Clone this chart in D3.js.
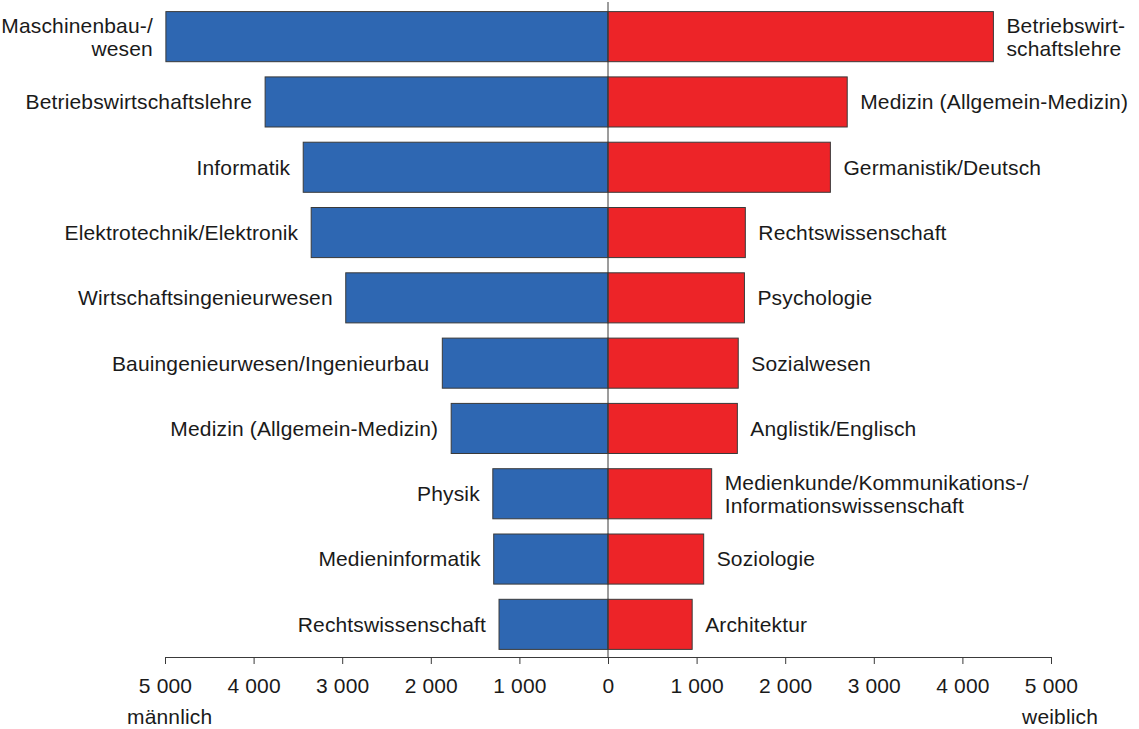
<!DOCTYPE html>
<html>
<head>
<meta charset="utf-8">
<script src="https://cdn.jsdelivr.net/npm/d3@7"></script>
<style>
  body { margin: 0; background: #fff; }
  text { font-family: "Liberation Sans", Arial, sans-serif; fill: #1a1a1a; letter-spacing: 0.15px; }
</style>
</head>
<body>
<script>
const maleSubjects = [
  "Maschinenbau-/\nwesen",
  "Betriebswirtschaftslehre",
  "Informatik",
  "Elektrotechnik/Elektronik",
  "Wirtschaftsingenieurwesen",
  "Bauingenieurwesen/Ingenieurbau",
  "Medizin (Allgemein-Medizin)",
  "Physik",
  "Medieninformatik",
  "Rechtswissenschaft"
];
const maleValues = [4990, 3870, 3440, 3350, 2960, 1870, 1770, 1300, 1290, 1230];

const femaleSubjects = [
  "Betriebswirt-\nschaftslehre",
  "Medizin (Allgemein-Medizin)",
  "Germanistik/Deutsch",
  "Rechtswissenschaft",
  "Psychologie",
  "Sozialwesen",
  "Anglistik/Englisch",
  "Medienkunde/Kommunikations-/\nInformationswissenschaft",
  "Soziologie",
  "Architektur"
];
const femaleValues = [4350, 2700, 2510, 1550, 1540, 1470, 1460, 1170, 1080, 950];

const tickValues = [-5000, -4000, -3000, -2000, -1000, 0, 1000, 2000, 3000, 4000, 5000];

const width = 1139;
const height = 729;
const fontSize = 21;

const svg = d3.select("body")
  .append("svg")
  .attr("width", width)
  .attr("height", height);

const x = d3.scaleLinear().domain([-5000, 5000]).range([165, 1051]);
const y = d3.scaleBand()
  .domain(d3.range(maleValues.length))
  .range([4, 657])
  .paddingInner(0.233)
  .paddingOuter(0.1165);

const fmt = d3.formatLocale({ thousands: " ", grouping: [3], decimal: "," }).format(",d");

// male bars (left)
svg.selectAll("rect.male")
  .data(maleValues)
  .enter()
  .append("rect")
  .attr("class", "male")
  .attr("x", (d) => x(-d))
  .attr("y", (d, i) => y(i))
  .attr("width", (d) => x(0) - x(-d))
  .attr("height", y.bandwidth())
  .attr("fill", "#2e67b2")
  .attr("stroke", "#3a3a3a")
  .attr("stroke-width", 1);

// female bars (right)
svg.selectAll("rect.female")
  .data(femaleValues)
  .enter()
  .append("rect")
  .attr("class", "female")
  .attr("x", x(0))
  .attr("y", (d, i) => y(i))
  .attr("width", (d) => x(d) - x(0))
  .attr("height", y.bandwidth())
  .attr("fill", "#ed2428")
  .attr("stroke", "#3a3a3a")
  .attr("stroke-width", 1);

// labels, split on \n for two line names
function addLabels(names, values, side) {
  names.forEach((name, i) => {
    const lines = name.split("\n");
    const cy = y(i) + y.bandwidth() / 2;
    const lineH = 23;
    const lx = side === "left" ? x(-values[i]) - 13 : x(values[i]) + 13;
    const t = svg.append("text")
      .attr("font-size", fontSize)
      .attr("text-anchor", side === "left" ? "end" : "start")
      .attr("x", lx)
      .attr("y", cy - (lines.length - 1) * lineH / 2);
    lines.forEach((ln, j) => {
      t.append("tspan")
        .attr("x", lx)
        .attr("dy", j === 0 ? "0.35em" : lineH)
        .text(ln);
    });
  });
}
addLabels(maleSubjects, maleValues, "left");
addLabels(femaleSubjects, femaleValues, "right");

// zero line
svg.append("line")
  .attr("x1", x(0)).attr("x2", x(0))
  .attr("y1", 2).attr("y2", 657)
  .attr("stroke", "#3a3a3a")
  .attr("stroke-width", 1);

// axis
const axis = svg.append("g")
  .attr("transform", "translate(0,657)")
  .call(d3.axisBottom(x)
    .tickValues(tickValues)
    .tickSize(7)
    .tickSizeOuter(0)
    .tickPadding(14)
    .tickFormat((d) => fmt(Math.abs(d))));
axis.select(".domain").attr("stroke", "#3a3a3a");
axis.selectAll(".tick line").attr("stroke", "#3a3a3a");
axis.selectAll("text")
  .attr("font-size", fontSize)
  .attr("font-family", "Liberation Sans, Arial, sans-serif")
  .attr("fill", "#1a1a1a");

svg.append("text")
  .attr("x", 127).attr("y", 724)
  .attr("font-size", fontSize)
  .text("männlich");
svg.append("text")
  .attr("x", 1098).attr("y", 724)
  .attr("text-anchor", "end")
  .attr("font-size", fontSize)
  .text("weiblich");
</script>
</body>
</html>
